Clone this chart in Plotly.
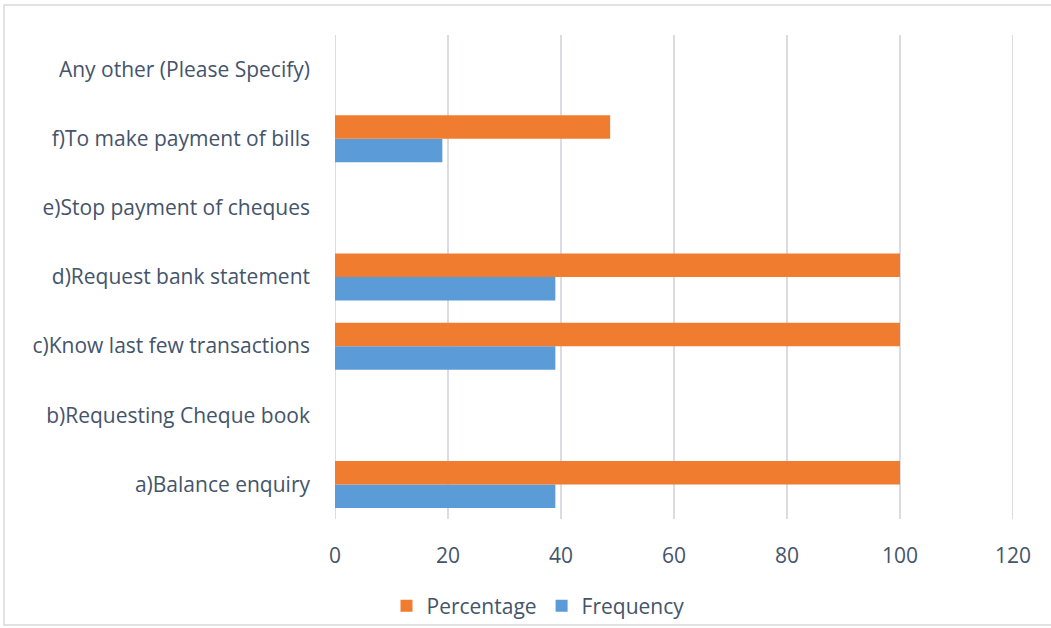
import plotly.graph_objects as go

categories = ["a)Balance enquiry", "b)Requesting Cheque book", "c)Know last few transactions",
              "d)Request bank statement", "e)Stop payment of cheques",
              "f)To make payment of bills", "Any other (Please Specify)"]
frequency = [39, None, 39, 39, None, 19, None]
percentage = [100, None, 100, 100, None, 48.7, None]
x_ticks = [0, 20, 40, 60, 80, 100, 120]

W, H = 1051, 628
L, R, T, B = 335, 38, 35, 109
pw = W - L - R
ph = H - T - B

fig = go.Figure()
fig.add_trace(go.Bar(y=categories, x=frequency, name="Frequency", orientation="h",
                     marker=dict(color="#5A9BD8", line=dict(width=0))))
fig.add_trace(go.Bar(y=categories, x=percentage, name="Percentage", orientation="h",
                     marker=dict(color="#F07C30", line=dict(width=0))))

font_color = "#44546A"
grid_color = "#D9DDE3"
fig.update_layout(
    width=W, height=H,
    margin=dict(l=L, r=R, t=T, b=B, autoexpand=False),
    paper_bgcolor="white", plot_bgcolor="white",
    barmode="group", bargap=0.32, bargroupgap=0,
    font=dict(family="Open Sans, Liberation Sans, sans-serif", color=font_color, size=21),
    legend=dict(orientation="h", traceorder="reversed", x=(538 - L) / pw,
                xanchor="center", y=-(606 - (T + ph)) / ph, yanchor="middle",
                bgcolor="rgba(0,0,0,0)",
                font=dict(size=21, color=font_color)),
    showlegend=True,
)
fig.update_xaxes(range=[x_ticks[0], x_ticks[-1]], tickvals=x_ticks, showgrid=True, gridcolor=grid_color, gridwidth=2,
                 zeroline=False, showline=False, ticks="", ticklabelstandoff=22, automargin=False,
                 tickfont=dict(size=21, color=font_color))
fig.update_yaxes(categoryorder="array", categoryarray=categories, showgrid=False, zeroline=False,
                 showline=False, ticks="", ticklabelstandoff=24, automargin=False,
                 tickfont=dict(size=21, color=font_color))

# gridlines at the range ends (plotly clips them)
for xv in (x_ticks[0], x_ticks[-1]):
    fig.add_shape(type="line", xref="x", yref="paper", x0=xv, x1=xv, y0=0, y1=1,
                  line=dict(color=grid_color, width=2), layer="below")

# chart border
x0 = (4 - L) / pw
x1 = (W + 5 - L) / pw
y0 = -(625 - (T + ph)) / ph
y1 = 1 + (T - 5) / ph
fig.add_shape(type="rect", xref="paper", yref="paper", x0=x0, x1=x1, y0=y0, y1=y1,
              line=dict(color="#D9D9D9", width=1.5), fillcolor="rgba(0,0,0,0)", layer="below")

fig.write_html("out.html")
